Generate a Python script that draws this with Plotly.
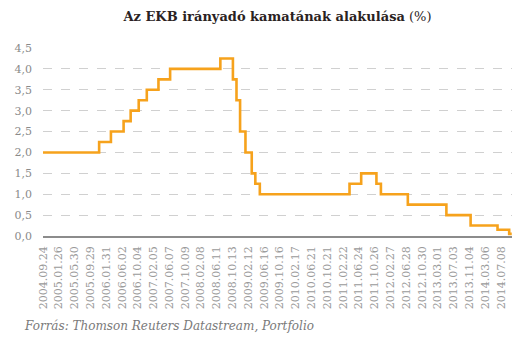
import plotly.graph_objects as go

# ECB main refinancing rate: dates of change and new rate (%)
change_dates = [
    "2004-09-24", "2005-12-06", "2006-03-08", "2006-06-15", "2006-08-09",
    "2006-10-11", "2006-12-13", "2007-03-14", "2007-06-13", "2008-07-09",
    "2008-10-15", "2008-11-12", "2008-12-10", "2009-01-21", "2009-03-11",
    "2009-04-08", "2009-05-13", "2011-04-13", "2011-07-13", "2011-11-09",
    "2011-12-14", "2012-07-11", "2013-05-08", "2013-11-13", "2014-06-11",
    "2014-09-10", "2014-09-30",
]
rates = [
    2.00, 2.25, 2.50, 2.75, 3.00,
    3.25, 3.50, 3.75, 4.00, 4.25,
    3.75, 3.25, 2.50, 2.00, 1.50,
    1.25, 1.00, 1.25, 1.50, 1.25,
    1.00, 0.75, 0.50, 0.25, 0.15,
    0.05, 0.05,
]

# x-axis labels
tick_dates = [
    "2004.09.24", "2005.01.26", "2005.05.30", "2005.09.29", "2006.01.31",
    "2006.06.02", "2006.10.04", "2007.02.05", "2007.06.07", "2007.10.09",
    "2008.02.08", "2008.06.11", "2008.10.13", "2009.02.12", "2009.06.16",
    "2009.10.16", "2010.02.17", "2010.06.21", "2010.10.21", "2011.02.22",
    "2011.06.24", "2011.10.26", "2012.02.27", "2012.06.28", "2012.10.30",
    "2013.03.01", "2013.07.03", "2013.11.04", "2014.03.06", "2014.07.08",
]

# y-axis labels
y_ticks = [0, 0.5, 1.0, 1.5, 2.0, 2.5, 3.0, 3.5, 4.0, 4.5]
y_labels = ["0,0", "0,5", "1,0", "1,5", "2,0", "2,5", "3,0", "3,5", "4,0", "4,5"]

fig = go.Figure()
fig.add_trace(go.Scatter(
    x=change_dates, y=rates,
    mode="lines",
    line=dict(shape="hv", color="#F6A21C", width=2.6),
    hoverinfo="x+y",
))

fig.update_layout(
    width=531, height=342,
    margin=dict(l=43, r=19, t=48, b=106),
    paper_bgcolor="white",
    plot_bgcolor="white",
    showlegend=False,
    title=dict(
        text="<b>Az EKB irányadó kamatának alakulása</b> (%)",
        x=0.5, xanchor="center", xref="paper",
        y=1 - 16 / 342, yanchor="middle",
        font=dict(family="'DejaVu Serif', serif", size=13, color="#2a2222"),
    ),
    xaxis=dict(
        type="date",
        range=["2004-09-24", "2014-10-02"],
        tickmode="array",
        tickvals=[d.replace(".", "-") for d in tick_dates],
        ticktext=tick_dates,
        tickangle=-90,
        tickfont=dict(family="'DejaVu Serif', serif", size=11, color="#9a9a9a"),
        showgrid=False,
        showline=True,
        linecolor="#8c8c8c",
        linewidth=1.5,
        ticks="",
        ticklabelstandoff=4,
        zeroline=False,
    ),
    yaxis=dict(
        range=[0, 4.5],
        tickmode="array",
        tickvals=y_ticks,
        ticktext=y_labels,
        tickfont=dict(family="'DejaVu Serif', serif", size=11, color="#8a8a8a"),
        showgrid=True,
        gridcolor="#d0d0d0",
        griddash="dash",
        gridwidth=1,
        zeroline=False,
        showline=False,
        ticks="",
        ticklabelstandoff=10,
    ),
    annotations=[
        dict(
            text="<i>Forrás: Thomson Reuters Datastream, Portfolio</i>",
            xref="paper", yref="paper",
            x=(22 - 43) / 469, y=-(326 - 236) / 188,
            xanchor="left", yanchor="middle",
            showarrow=False,
            font=dict(family="'DejaVu Serif', serif", size=12, color="#7a7a7a"),
        )
    ],
)

fig.write_html("out.html")
